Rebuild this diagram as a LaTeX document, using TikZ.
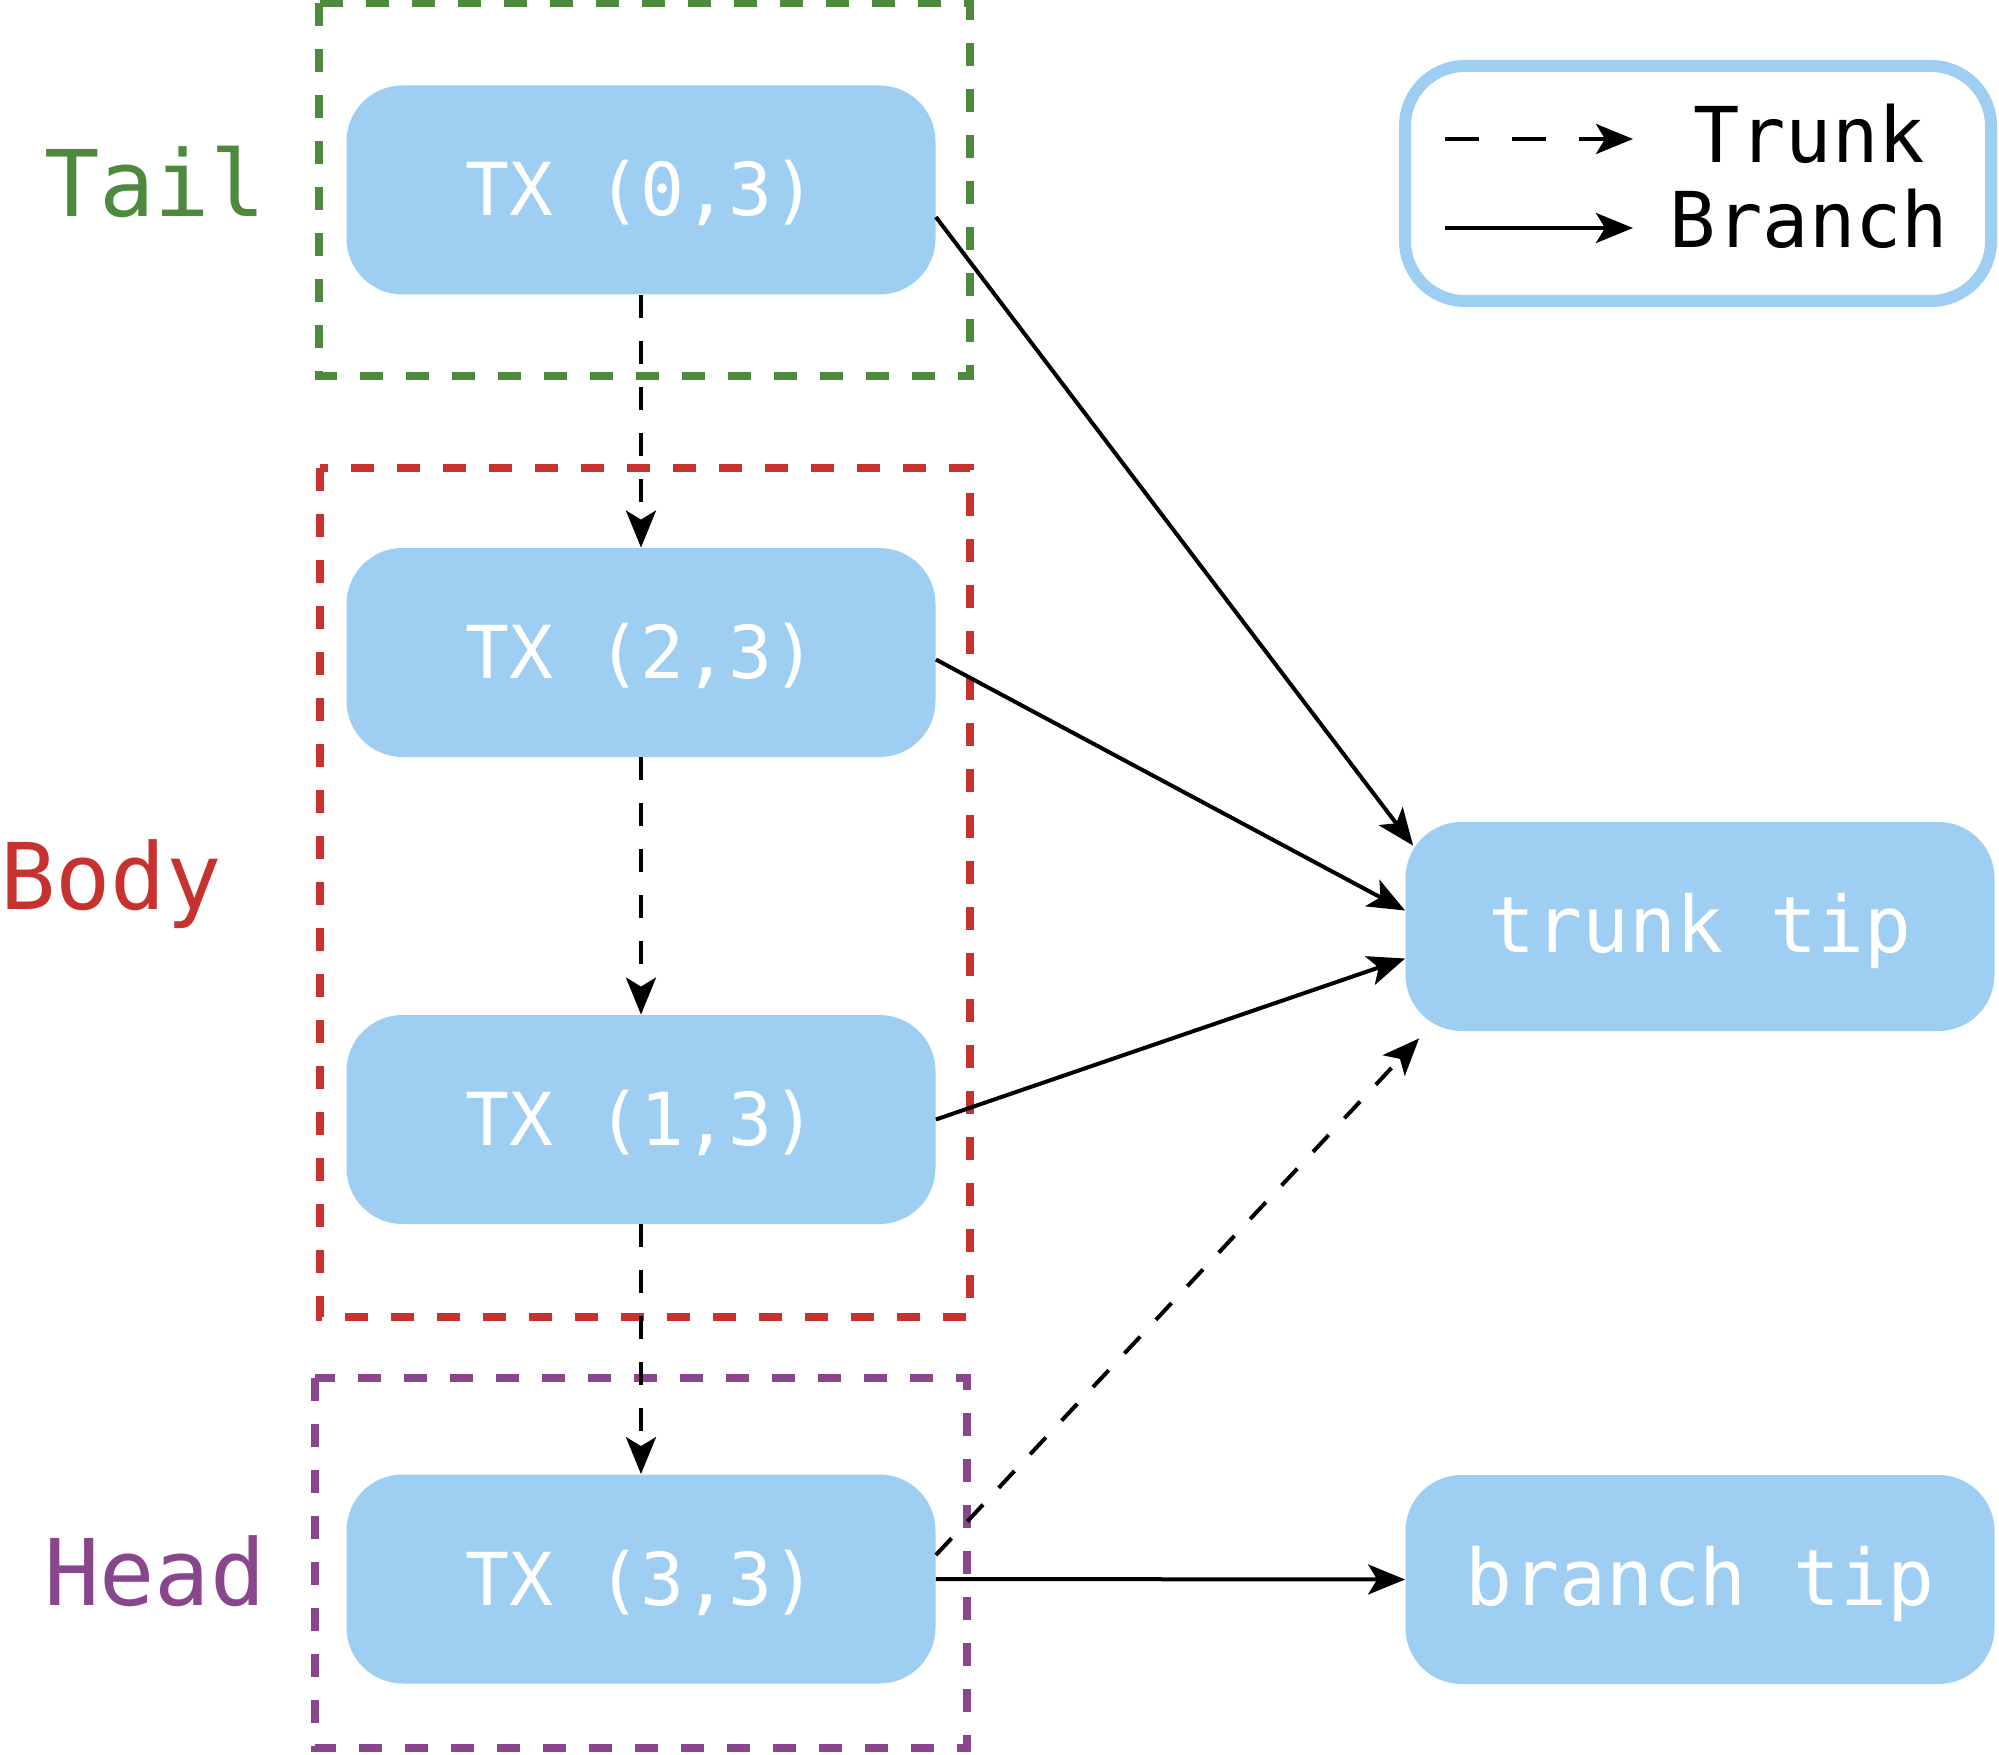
\documentclass[tikz,border=0pt]{standalone}
\usepackage{fontspec}
\newfontfamily\dvmono{DejaVu Sans Mono}
\usetikzlibrary{arrows.meta}
\definecolor{nodeblue}{RGB}{158,207,242}
\definecolor{tailgreen}{RGB}{78,138,62}
\definecolor{bodyred}{RGB}{200,50,46}
\definecolor{headpurple}{RGB}{138,70,140}
\begin{document}
\begin{tikzpicture}[x=0.5pt,y=-0.5pt,
  txbox/.style={rectangle, rounded corners=28pt, fill=nodeblue, text=white,
    minimum width=294.5pt, minimum height=104.5pt, inner sep=0pt,
    font=\dvmono\fontsize{36.5}{40}\selectfont, text height=26pt, text depth=0pt},
  tipbox/.style={txbox, font=\dvmono\fontsize{39}{42}\selectfont},
  grp/.style={line width=3.6pt, dash pattern=on 11.5pt off 11.5pt},
  lbl/.style={font=\dvmono\fontsize{46}{50}\selectfont, anchor=base, inner sep=0pt},
  arrowtip/.style={-{Stealth[length=18.5pt,width=15pt,inset=4.5pt]}, line width=2pt},
  trunkarrow/.style={arrowtip, dash pattern=on 11.5pt off 11.5pt},
  brancharrow/.style={arrowtip},
  legtext/.style={font=\dvmono\fontsize{38.5}{42}\selectfont, anchor=base, inner sep=0pt},
]
\useasboundingbox (0,0) rectangle (1999,1755);

% group boxes
\draw[grp, tailgreen] (319,3) rectangle (970,376);
\draw[grp, bodyred] (320,468) rectangle (970,1317);
\draw[grp, headpurple] (315,1378) rectangle (967,1748);

% labels
\node[lbl, text=tailgreen] (taillbl) at (155,217) {Tail};
\node[lbl, text=bodyred] (bodylbl) at (111,909) {Body};
\node[lbl, text=headpurple] (headlbl) at (155,1605) {Head};

% nodes
\node[txbox] (tx0) at (641,190) {TX (0,3)};
\node[txbox] (tx2) at (641,652.5) {TX (2,3)};
\node[txbox] (tx1) at (641,1119.5) {TX (1,3)};
\node[txbox] (tx3) at (641,1579) {TX (3,3)};
\node[tipbox] (tt) at (1700,926.5) {trunk tip};
\node[tipbox] (bt) at (1700,1579.5) {branch tip};

% trunk connectors
\draw[trunkarrow] (tx0.south) -- (tx2.north);
\draw[trunkarrow] (tx2.south) -- (tx1.north);
\draw[trunkarrow] (tx1.south) -- (tx3.north);
\draw[trunkarrow] ([yshift=12pt]tx3.east) -- ([xshift=7pt,yshift=-3.5pt]tt.south west);

% branch connectors
\draw[brancharrow] ([yshift=-13.5pt]tx0.east) -- ([xshift=4pt,yshift=-12pt]tt.north west);
\draw[brancharrow] ([yshift=-3.5pt]tx2.east) -- ([yshift=8pt]tt.west);
\draw[brancharrow] (tx1.east) -- ([yshift=-16pt]tt.west);
\draw[brancharrow] (tx3.east) -- (bt.west);

% legend
\node[draw=nodeblue, line width=6pt, rounded corners=30pt, minimum width=293pt,
  minimum height=117.5pt, inner sep=0pt] (legend) at (1698,183.5) {};
\coordinate (lts) at (1445,139);
\coordinate (lte) at (1633,139);
\coordinate (lbs) at (1445,228);
\coordinate (lbe) at (1633,228);
\draw[arrowtip, dash pattern=on 16.75pt off 16.75pt] (lts) -- (lte);
\draw[brancharrow] (lbs) -- (lbe);
\node[legtext] (legtrunk) at (1809,163) {Trunk};
\node[legtext] (legbranch) at (1809,248) {Branch};
\end{tikzpicture}
\end{document}
